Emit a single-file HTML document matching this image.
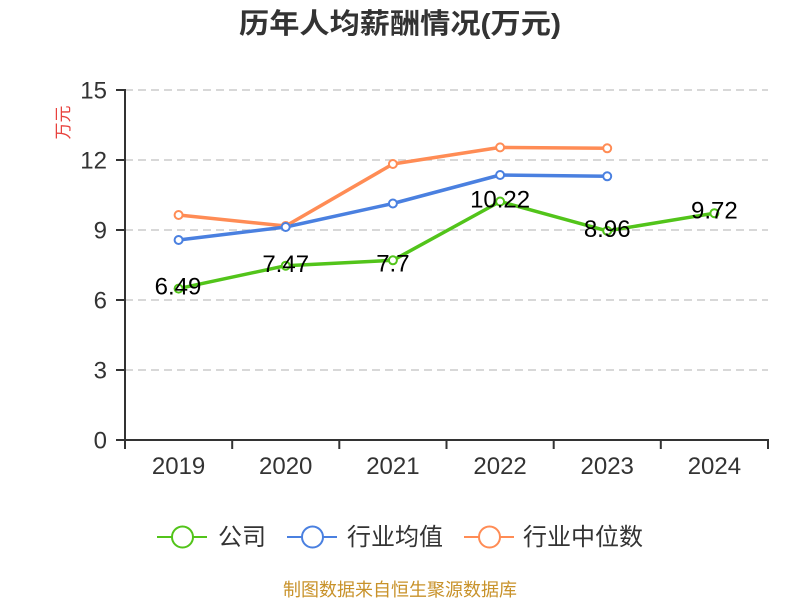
<!DOCTYPE html>
<html><head><meta charset="utf-8"><style>
html,body{margin:0;padding:0;background:#fff;}
svg{display:block;}
text{font-family:"Liberation Sans","Noto Sans CJK SC",sans-serif;}
</style></head><body>
<svg width="800" height="600" viewBox="0 0 800 600" xmlns="http://www.w3.org/2000/svg">
<text x="400" y="33" text-anchor="middle" font-size="28" font-weight="bold" fill="#333" textLength="322" lengthAdjust="spacingAndGlyphs">历年人均薪酬情况(万元)</text>
<text transform="translate(69,122.5) rotate(-90)" text-anchor="middle" font-size="17" fill="#e8413d">万元</text>
<g stroke="#cccccc" stroke-width="1.5" stroke-dasharray="8,5">
<line x1="125" y1="90" x2="768" y2="90"/>
<line x1="125" y1="160" x2="768" y2="160"/>
<line x1="125" y1="230" x2="768" y2="230"/>
<line x1="125" y1="300" x2="768" y2="300"/>
<line x1="125" y1="370" x2="768" y2="370"/>
</g>
<g stroke="#333" stroke-width="2">
<line x1="125" y1="89" x2="125" y2="441"/>
<line x1="124" y1="440" x2="769" y2="440"/>
<line x1="116" y1="90" x2="125" y2="90"/>
<line x1="116" y1="160" x2="125" y2="160"/>
<line x1="116" y1="230" x2="125" y2="230"/>
<line x1="116" y1="300" x2="125" y2="300"/>
<line x1="116" y1="370" x2="125" y2="370"/>
<line x1="116" y1="440" x2="125" y2="440"/>
<line x1="125" y1="440" x2="125" y2="449"/>
<line x1="232.2" y1="440" x2="232.2" y2="449"/>
<line x1="339.3" y1="440" x2="339.3" y2="449"/>
<line x1="446.5" y1="440" x2="446.5" y2="449"/>
<line x1="553.7" y1="440" x2="553.7" y2="449"/>
<line x1="660.8" y1="440" x2="660.8" y2="449"/>
<line x1="768" y1="440" x2="768" y2="449"/>
</g>
<g font-size="24" fill="#333" text-anchor="end">
<text x="107" y="98.5">15</text>
<text x="107" y="168.5">12</text>
<text x="107" y="238.5">9</text>
<text x="107" y="308.5">6</text>
<text x="107" y="378.5">3</text>
<text x="107" y="448.5">0</text>
</g>
<g font-size="24" fill="#333" text-anchor="middle">
<text x="178.6" y="474">2019</text>
<text x="285.7" y="474">2020</text>
<text x="392.9" y="474">2021</text>
<text x="500.1" y="474">2022</text>
<text x="607.2" y="474">2023</text>
<text x="714.4" y="474">2024</text>
</g>
<polyline fill="none" stroke="#ff8c55" stroke-width="3.5" stroke-linejoin="round" points="178.6,215 285.7,226 392.9,164 500.1,147.4 607.2,148.3"/>
<polyline fill="none" stroke="#4a80e0" stroke-width="3.5" stroke-linejoin="round" points="178.6,240 285.7,227 392.9,203.5 500.1,175 607.2,176.3"/>
<polyline fill="none" stroke="#52c41a" stroke-width="3.5" stroke-linejoin="round" points="178.6,288.6 285.7,265.7 392.9,260.3 500.1,201.5 607.2,230.9 714.4,213.2"/>
<g fill="#fff" stroke-width="2">
<g stroke="#ff8c55">
<circle cx="178.6" cy="215" r="4"/><circle cx="285.7" cy="226" r="4"/><circle cx="392.9" cy="164" r="4"/><circle cx="500.1" cy="147.4" r="4"/><circle cx="607.2" cy="148.3" r="4"/>
</g>
<g stroke="#4a80e0">
<circle cx="178.6" cy="240" r="4"/><circle cx="285.7" cy="227" r="4"/><circle cx="392.9" cy="203.5" r="4"/><circle cx="500.1" cy="175" r="4"/><circle cx="607.2" cy="176.3" r="4"/>
</g>
<g stroke="#52c41a">
<circle cx="178.6" cy="288.6" r="4"/><circle cx="285.7" cy="265.7" r="4"/><circle cx="392.9" cy="260.3" r="4"/><circle cx="500.1" cy="201.5" r="4"/><circle cx="607.2" cy="230.9" r="4"/><circle cx="714.4" cy="213.2" r="4"/>
</g>
</g>
<g font-size="24" fill="#000" text-anchor="middle">
<text x="178" y="294.5">6.49</text>
<text x="285.7" y="272">7.47</text>
<text x="392.9" y="271.5">7.7</text>
<text x="500.1" y="207.5">10.22</text>
<text x="607.2" y="237">8.96</text>
<text x="714.4" y="218.5">9.72</text>
</g>
<g fill="#fff" stroke-width="2">
<line x1="157" y1="537" x2="207" y2="537" stroke="#52c41a"/>
<circle cx="182.5" cy="537" r="10.5" stroke="#52c41a"/>
<line x1="287" y1="537" x2="337" y2="537" stroke="#4a80e0"/>
<circle cx="312.5" cy="537" r="10.5" stroke="#4a80e0"/>
<line x1="464" y1="537" x2="514" y2="537" stroke="#ff8c55"/>
<circle cx="489.5" cy="537" r="10.5" stroke="#ff8c55"/>
</g>
<g font-size="24" fill="#333">
<text x="218" y="545">公司</text>
<text x="347" y="545">行业均值</text>
<text x="523" y="545">行业中位数</text>
</g>
<text x="400" y="596" text-anchor="middle" font-size="18" fill="#c8922a">制图数据来自恒生聚源数据库</text>
</svg>
</body></html>
